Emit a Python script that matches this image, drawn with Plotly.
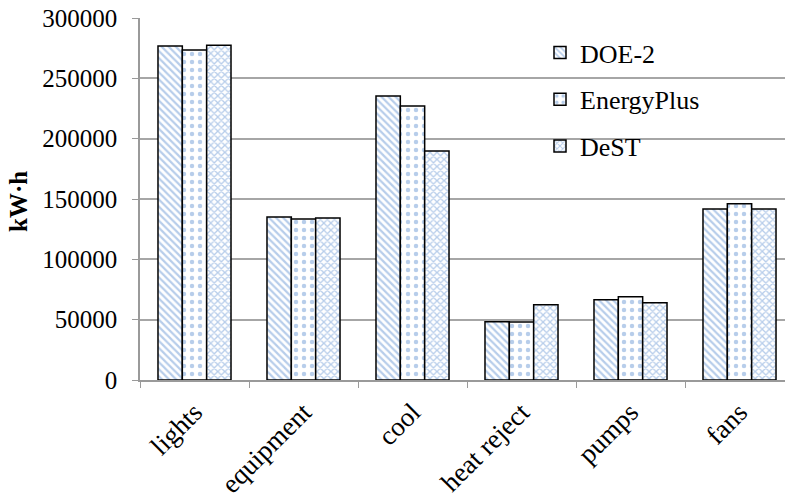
import plotly.graph_objects as go

categories = ["lights", "equipment", "cool", "heat reject", "pumps", "fans"]
doe2 = [276800, 135000, 235300, 48300, 66500, 141700]
energyplus = [273400, 133400, 227000, 48000, 69000, 146100]
dest = [277500, 134200, 189700, 62300, 64000, 141700]
series_names = ["DOE-2", "EnergyPlus", "DeST"]
y_ticks = [0, 50000, 100000, 150000, 200000, 250000, 300000]
y_title = "<b>kW·h</b>"

FONT = "Liberation Serif, Times New Roman, serif"
pattern_styles = [
    dict(shape="\\", size=5, solidity=0.45),
    dict(shape=".", size=8, solidity=0.25),
    dict(shape="x", size=5, solidity=0.45),
]
fig = go.Figure()
for i, (name, vals) in enumerate(zip(series_names, [doe2, energyplus, dest])):
    fig.add_trace(go.Bar(
        x=categories, y=vals, name=name, legendgroup=name,
        marker=dict(
            color="white",
            line=dict(color="black", width=1.5),
            pattern=dict(fgcolor="#6f9bd6", bgcolor="white", fillmode="overlay",
                         **pattern_styles[i]),
        ),
    ))

W, H = 785, 499
L, T = 140, 18
B = H - 380
PW, PH = W - L, 380 - T
fig.update_layout(
    width=W, height=H,
    margin=dict(l=L, r=0, t=T, b=B, autoexpand=False),
    paper_bgcolor="white", plot_bgcolor="white",
    barmode="group", bargap=0.33, bargroupgap=0,
    font=dict(family=FONT, size=25, color="black"),
    showlegend=True,
    legend=dict(x=(540 - L) / PW, y=1 - (29 - T) / PH, xanchor="left", yanchor="top",
                font=dict(size=26), traceorder="grouped", tracegroupgap=10,
                bgcolor="rgba(0,0,0,0)", itemwidth=30),
    xaxis=dict(type="category", range=[-0.5, 5.5 - 9 / 109], tickson="boundaries",
               ticks="outside", ticklen=6, tickcolor="#9a9a9a", showline=True,
               linecolor="#9a9a9a", linewidth=1.5, tickangle=-45, showgrid=False,
               tickfont=dict(size=27), automargin=False, ticklabelstandoff=4),
    yaxis=dict(range=[0, 300000], tickvals=y_ticks, ticktext=[str(v) for v in y_ticks],
               showgrid=True, gridcolor="#a6a6a6", gridwidth=1.5, ticks="outside",
               ticklen=6, tickcolor="#9a9a9a", showline=True, linecolor="#9a9a9a",
               linewidth=1.5, zeroline=False, tickfont=dict(size=25), automargin=False,
               ticklabelstandoff=10),
    annotations=[dict(text=y_title, xref="paper", yref="paper", x=(18 - L) / PW,
                      y=1 - (202 - T) / PH, xanchor="center", yanchor="middle",
                      textangle=-90, showarrow=False, font=dict(size=25))],
)
fig.write_html("out.html", config={"displayModeBar": False},
               post_script="document.body.style.margin='0px';document.body.style.overflow='hidden';")
